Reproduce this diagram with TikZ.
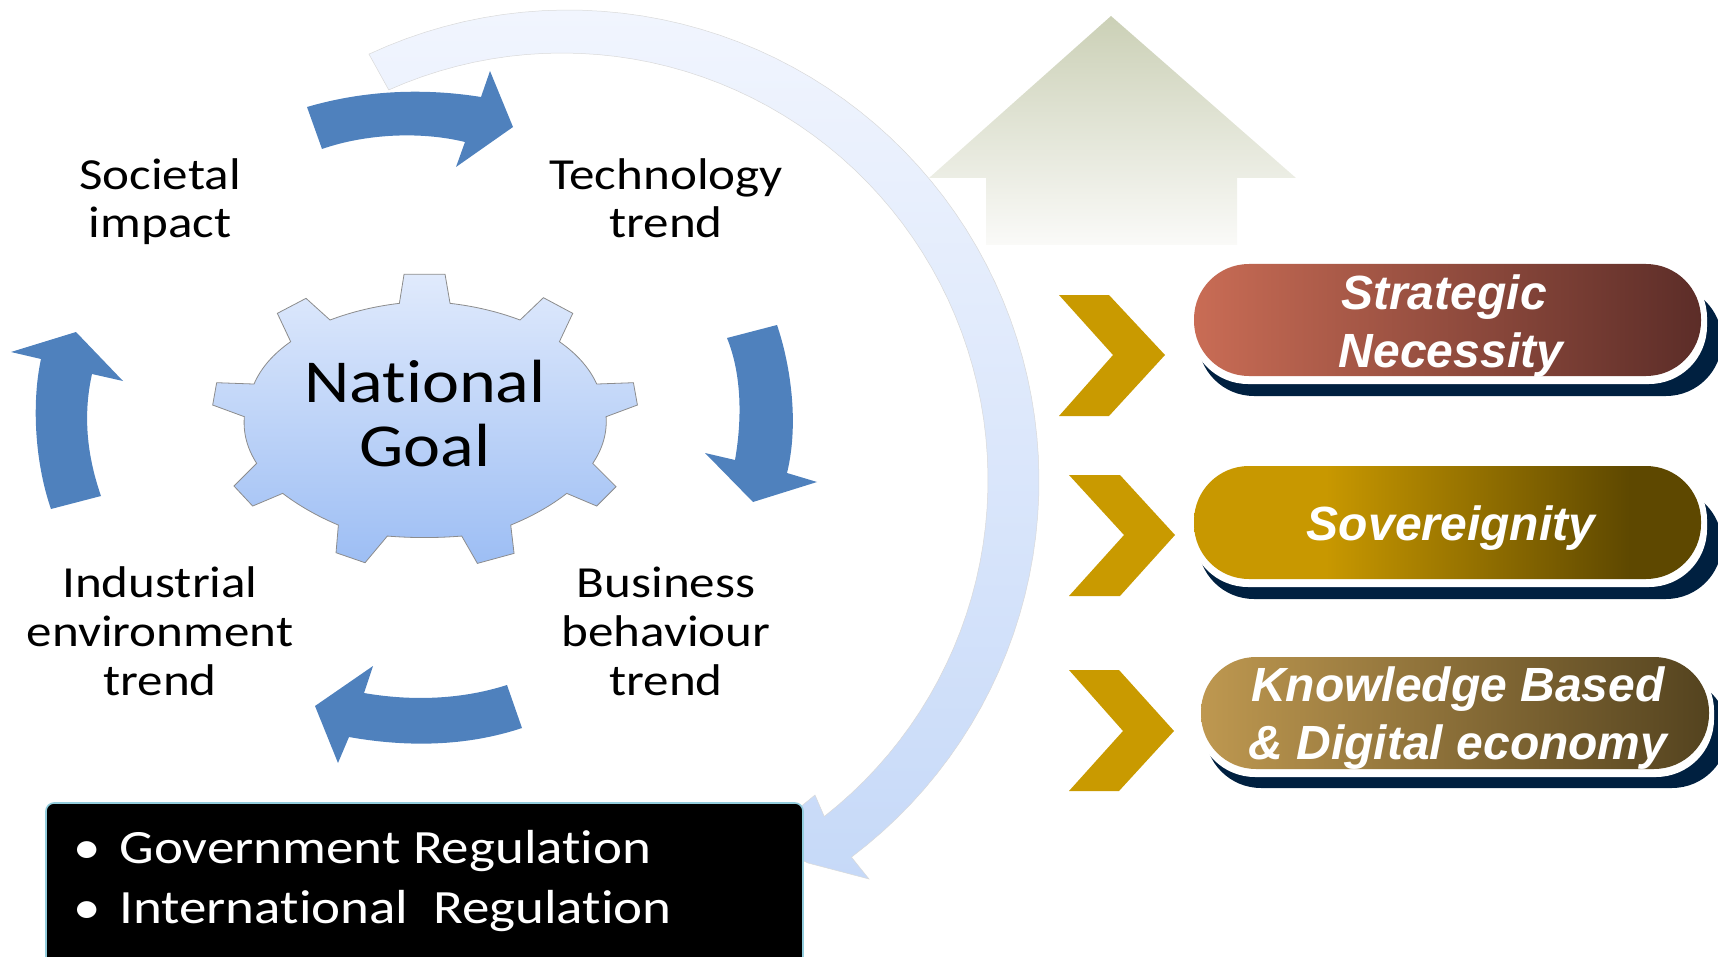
\documentclass[tikz,border=0pt]{standalone}
\usepackage{fontspec}
\usetikzlibrary{calc}
\newfontfamily\calw[FakeStretch=1.15,Ligatures=NoCommon]{Carlito}
\newfontfamily\arl{Liberation Sans}
\definecolor{cycleblue}{HTML}{4F81BD}
\definecolor{navyshadow}{HTML}{002040}
\definecolor{gold}{HTML}{C99A00}
\definecolor{redA}{HTML}{C96C55}
\definecolor{redB}{HTML}{5C2D28}
\definecolor{goldA}{HTML}{C89800}
\definecolor{goldB}{HTML}{5E4800}
\definecolor{tanA}{HTML}{BE9850}
\definecolor{tanB}{HTML}{54431F}
\definecolor{arcA}{HTML}{F1F5FE}
\definecolor{arcB}{HTML}{C6D9F8}
\definecolor{gearA}{HTML}{E0EAFC}
\definecolor{gearB}{HTML}{9DBEF4}
\definecolor{homeA}{HTML}{CBD0B6}
\definecolor{homeB}{HTML}{FAFAF8}
\definecolor{boxedge}{HTML}{93CDDD}
\pgfdeclarehorizontalshading{goldpill}{100bp}{color(0bp)=(goldA); color(38bp)=(goldA); color(68bp)=(goldB); color(100bp)=(goldB)}
\newcommand{\qcurve}[3]{.. controls ($(#1)!0.6667!(#2)$) and ($(#3)!0.6667!(#2)$) .. (#3)}
\tikzset{
  cyclearrow/.style={fill=cycleblue,draw=none},
  trendlabel/.style={font=\calw\fontsize{22.2}{24}\selectfont,align=center,text=black,inner sep=0pt},
  trendlabelb/.style={font=\calw\fontsize{22.2}{24.5}\selectfont,align=center,text=black,inner sep=0pt},
  pilltext/.style={font=\arl\bfseries\itshape\fontsize{24}{29}\selectfont,align=center,text=white,inner sep=0pt},
  chevron/.style={fill=gold,draw=none},
  pillwhite/.style={fill=white,draw=none,rounded corners=29pt},
  pillshadow/.style={fill=navyshadow,draw=none,rounded corners=28pt},
  pillface/.style={draw=none,rounded corners=27.5pt}
}
\begin{document}
\begin{tikzpicture}[x=0.5pt,y=-0.5pt]
\useasboundingbox (0,0) rectangle (1718,957);
\clip (0,0) rectangle (1718,957);
% big arc arrow
\shade[top color=arcA,bottom color=arcB,draw=gray!30,line width=0.25pt]
  plot[domain=-115:53,samples=70] ({568+471*cos(\x)},{481+471*sin(\x)})
  -- (869,879) -- (808,863) -- (760,840) -- (815,795)
  -- plot[domain=52:-114,samples=70] ({562+426*cos(\x)},{480+427*sin(\x)})
  -- cycle;
% cycle arrows
\fill[cyclearrow] (307,107) .. controls (365,90) and (425,88) .. (481,97) -- (490,71) -- (513,127) -- (456,167) -- (465,142) .. controls (420,131) and (365,134) .. (322,149) -- cycle;
\fill[cyclearrow] (727,338) -- (777,325) .. controls (789,360) and (800,420) .. (787,473) -- (817,482) -- (753,502) -- (705,453) -- (735,460) .. controls (742,420) and (742,375) .. cycle;
\fill[cyclearrow] (507,685) .. controls (460,700) and (410,701) .. (364,693) -- (373,666) -- (315,706) -- (338,763) -- (349,737) .. controls (405,747) and (465,747) .. (522,728) -- cycle;
\fill[cyclearrow] (51,509) -- (101,496) .. controls (85,450) and (84,410) .. (92,374) -- (123,381) -- (76,332) -- (11,352) -- (41,359) .. controls (32,400) and (34,460) .. cycle;
% gear
\begin{scope}[shift={(200,260)},x=0.1667pt,y=-0.1667pt]
\shade[top color=gearA,bottom color=gearB,draw=black!45,line width=0.4pt]
 (598,130) -- (612,43) -- (735,43) -- (750,130)
 \qcurve{750,130}{862,143}{960,180} -- (1030,113) -- (1118,160) -- (1078,245)
 \qcurve{1078,245}{1157,300}{1190,372} -- (1300,368) -- (1312,435) -- (1218,470)
 \qcurve{1218,470}{1223,543}{1178,610} -- (1248,680) -- (1190,738) -- (1100,700)
 \qcurve{1100,700}{1028,756}{932,795} -- (942,880) -- (832,910) -- (785,828)
 \qcurve{785,828}{673,837}{562,828} -- (495,908) -- (408,878) -- (415,795)
 \qcurve{415,795}{322,756}{248,700} -- (158,738) -- (102,678) -- (170,610)
 \qcurve{170,610}{127,543}{133,470} -- (38,435) -- (50,368) -- (162,372)
 \qcurve{162,372}{193,300}{272,245} -- (232,160) -- (318,115) -- (390,180)
 \qcurve{390,180}{488,143}{598,130} -- cycle;
\end{scope}
\node[font=\calw\fontsize{30.5}{32}\selectfont,align=center,inner sep=0pt] (goal) at (425,414) {National\\Goal};
% trend labels
\node[trendlabel] (societal) at (160,202) {Societal\\impact};
\node[trendlabel] (technology) at (666,198) {Technology\\trend};
\node[trendlabelb] (industrial) at (160,631) {Industrial\\environment\\trend};
\node[trendlabelb] (business) at (666,631) {Business\\behaviour\\trend};
% regulation box
\draw[fill=black,draw=boxedge,line width=0.8pt,rounded corners=4pt] (46,803) rectangle (803,975);
\node[anchor=north west,inner sep=0pt,text=white,align=left,font=\calw\fontsize{23.9}{30}\selectfont] (regs) at (73,830)
 {\textbullet\hspace{9.3pt}Government Regulation\\\textbullet\hspace{9.3pt}International\ \ Regulation};
% home arrow
\shade[top color=homeA,bottom color=homeB] (1111,16) -- (1296,178) -- (1237,178) -- (1237,245) -- (986,245) -- (986,178) -- (929,178) -- cycle;
% chevrons
\fill[chevron] (1059,295) -- (1109,295) -- (1165,355) -- (1109,416) -- (1059,416) -- (1113,355) -- cycle;
\fill[chevron] (1069,475) -- (1120,475) -- (1175,535) -- (1120,596) -- (1069,596) -- (1124,535) -- cycle;
\fill[chevron] (1069,670) -- (1119,670) -- (1174,731) -- (1119,791) -- (1069,791) -- (1123,731) -- cycle;
% pill 1
\fill[pillshadow] (1198,285) rectangle (1722,396);
\fill[pillwhite] (1190,260) rectangle (1707,384);
\shade[pillface,left color=redA,right color=redB] (1194,264) rectangle (1701,376);
\node[pilltext] (strategic) at (1451,326) {Strategic\hspace*{7pt}\\Necessity};
% pill 2
\fill[pillshadow] (1198,488) rectangle (1722,599);
\fill[pillwhite] (1190,462) rectangle (1707,587);
\shade[pillface,shading=goldpill] (1194,466) rectangle (1701,579);
\node[pilltext] (sovereignity) at (1451,528) {Sovereignity};
% pill 3
\fill[pillshadow] (1205,677) rectangle (1728,788);
\fill[pillwhite] (1197,653) rectangle (1714,777);
\shade[pillface,left color=tanA,right color=tanB] (1201,657) rectangle (1709,769);
\node[pilltext] (knowledge) at (1458,718) {Knowledge Based\\\& Digital economy};
\end{tikzpicture}
\end{document}
